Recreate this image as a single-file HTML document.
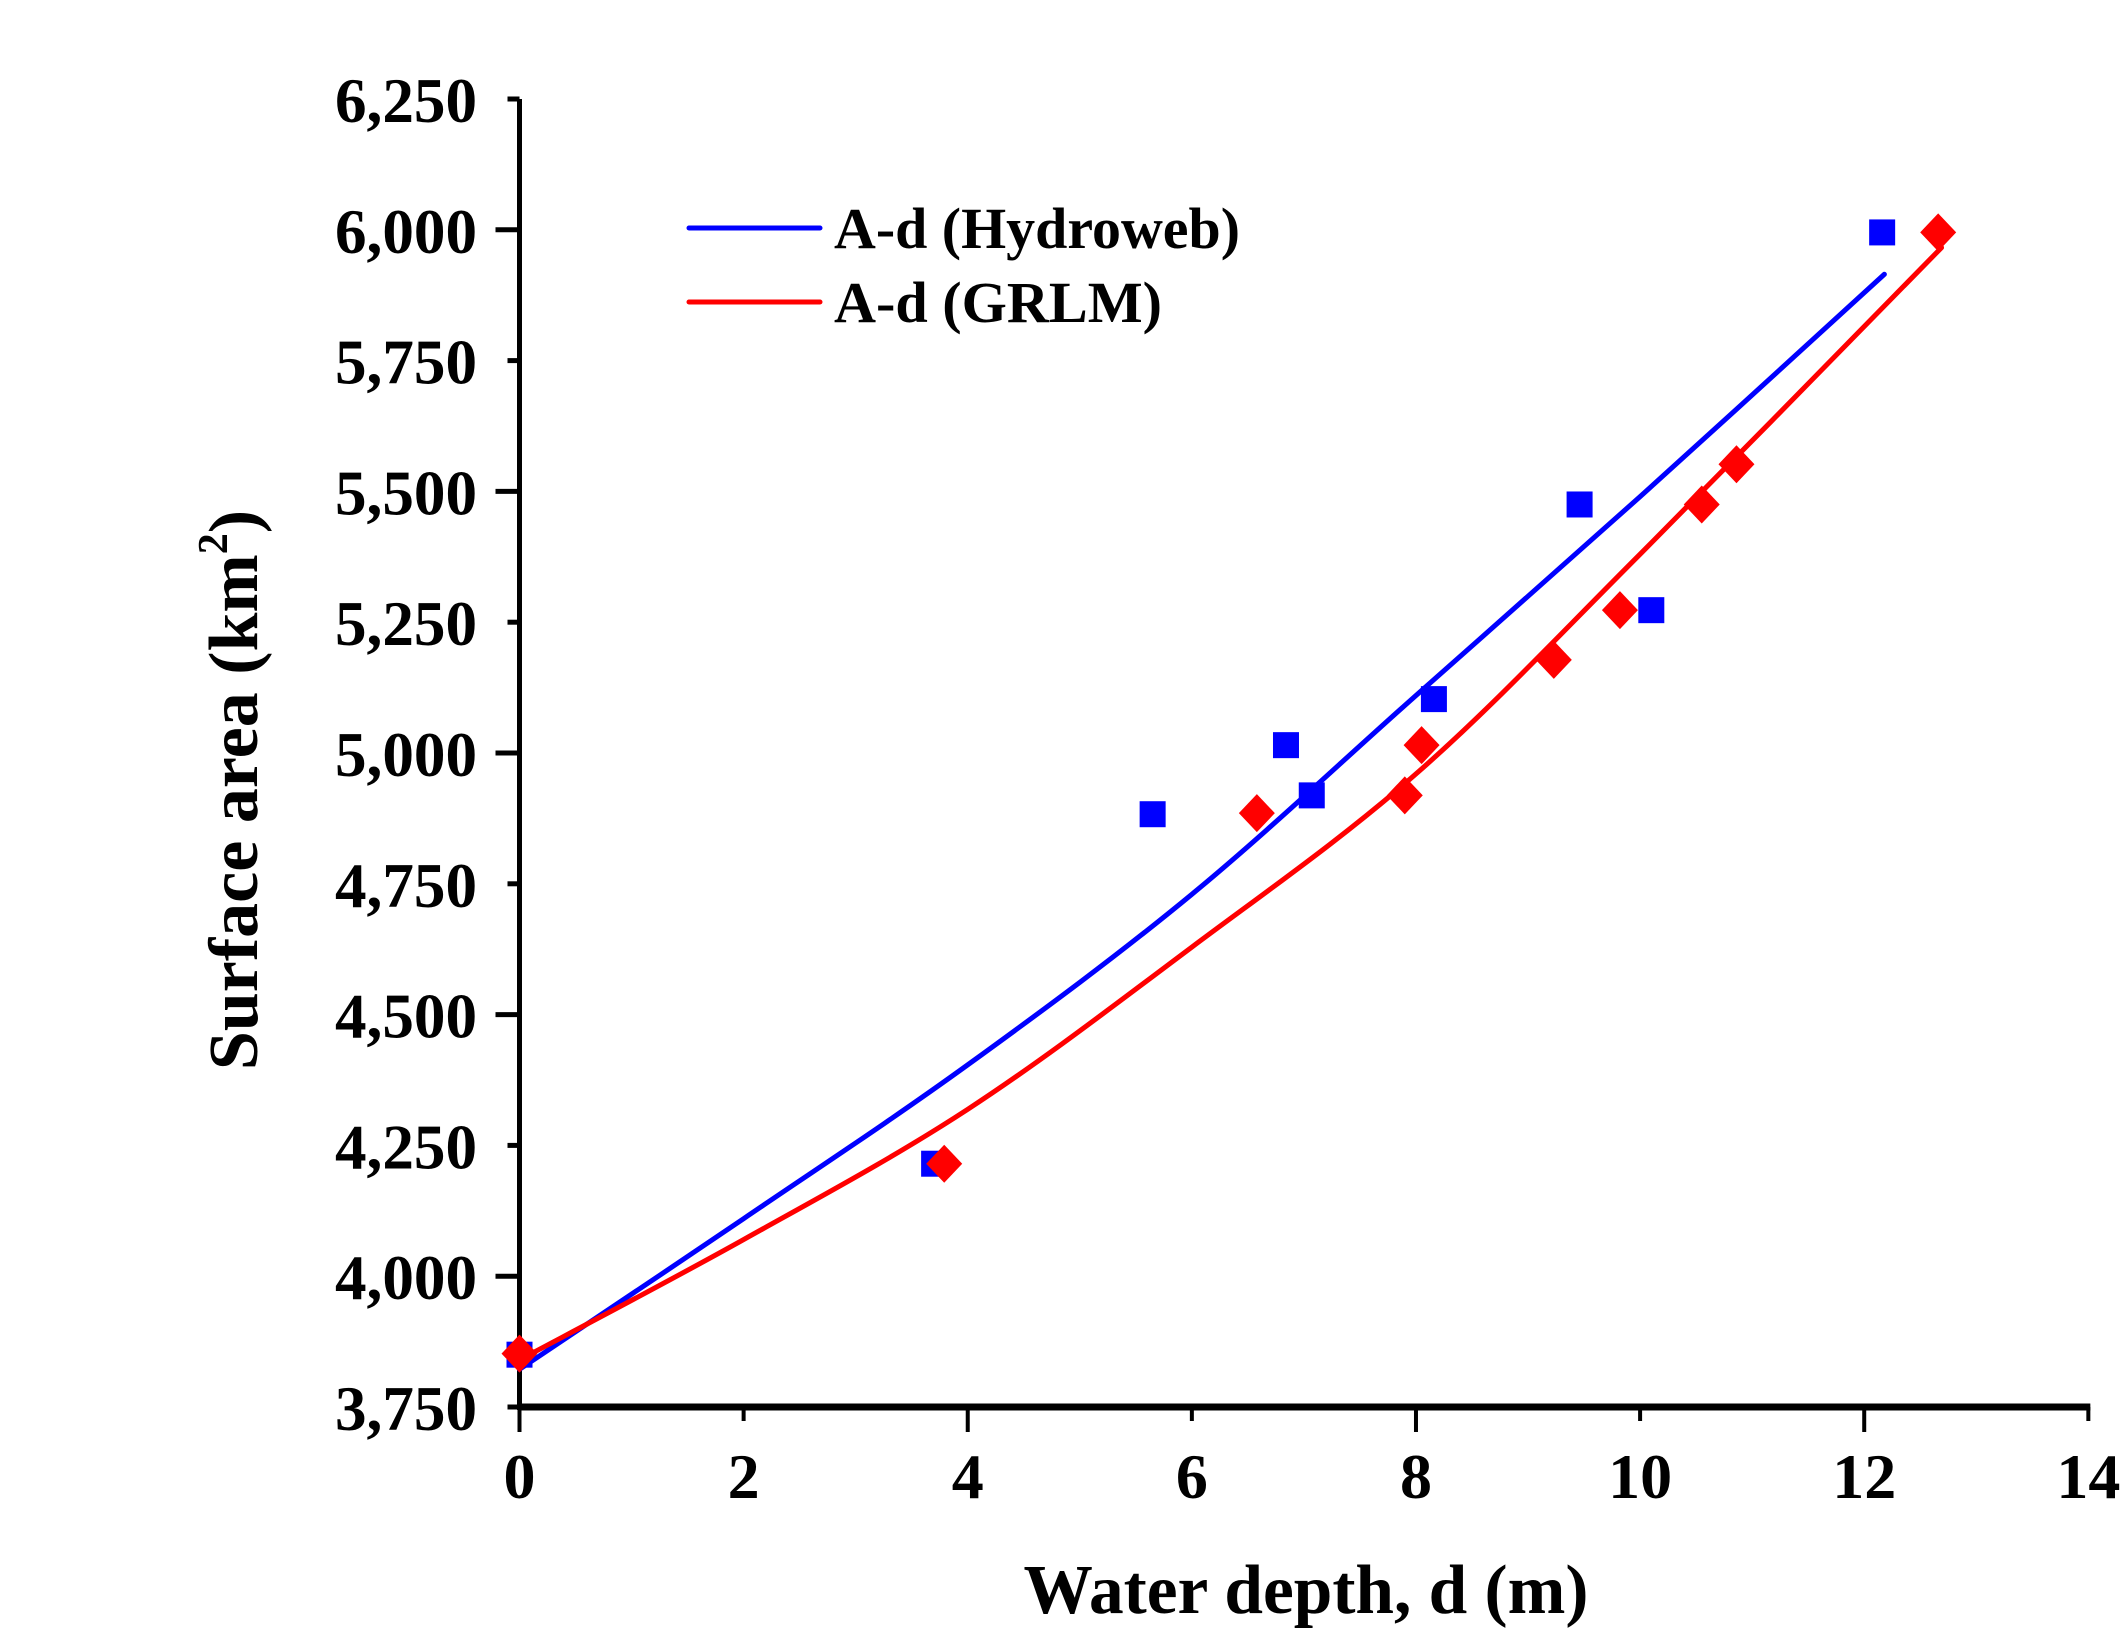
<!DOCTYPE html>
<html><head><meta charset="utf-8"><style>
html,body{margin:0;padding:0;background:#fff;}
svg{display:block;}
text{font-family:"Liberation Serif",serif;font-weight:bold;fill:#000;}
</style></head><body>
<svg id="chart" width="2121" height="1629" viewBox="0 0 2121 1629" xmlns="http://www.w3.org/2000/svg">
<g id="axes"></g>
<g id="curves"></g>
<g id="markers"></g>
<g id="legend">
  <line x1="689" y1="228" x2="820" y2="228" stroke="#0000ff" stroke-width="5" stroke-linecap="round"/>
  <text x="834" y="248" font-size="58" textLength="406" lengthAdjust="spacingAndGlyphs">A-d (Hydroweb)</text>
  <line x1="689" y1="302" x2="820" y2="302" stroke="#ff0000" stroke-width="5" stroke-linecap="round"/>
  <text x="834" y="322" font-size="58" textLength="328" lengthAdjust="spacingAndGlyphs">A-d (GRLM)</text>
</g>
<text x="1306" y="1613" font-size="70" text-anchor="middle" textLength="565" lengthAdjust="spacingAndGlyphs">Water depth, d (m)</text>
<text transform="translate(257,790) rotate(-90)" font-size="70" text-anchor="middle">Surface area (km<tspan dy="-30" font-size="42">2</tspan><tspan dy="30">)</tspan></text>
</svg>
<script>
const xTicks = [0,2,4,6,8,10,12,14];
const yTicks = [3750,4000,4250,4500,4750,5000,5250,5500,5750,6000,6250];
const yTickLabels = ["3,750","4,000","4,250","4,500","4,750","5,000","5,250","5,500","5,750","6,000","6,250"];
const hydroDepth = [0,3.70,5.65,6.84,7.07,8.16,9.46,10.10,12.16];
const hydroArea = [3850,4215,4883,5015,4919,5103,5475,5273,5995];
const grlmDepth = [0,3.79,6.58,7.90,8.05,9.23,9.82,10.55,10.86,12.66];
const grlmArea = [3852,4215,4885,4919,5015,5178,5273,5475,5552,5995];
const hydroFitDepth = [0,2,4,6,8,10,12.18];
const hydroFitArea = [3822,4110,4404,4730,5110,5490,5915];
const grlmFitDepth = [0,2,4,6,8,10,12.69];
const grlmFitArea = [3840,4070,4319,4629,4960,5380,5966];

const NS="http://www.w3.org/2000/svg";
const X0=519.5, PXM=112.06, Y0=1407, PXA=130.8/250;
function sx(d){return X0+d*PXM;}
function sy(a){return Y0-(a-3750)*PXA;}
function mk(tag,attrs,parent){const e=document.createElementNS(NS,tag);for(const k in attrs)e.setAttribute(k,attrs[k]);parent.appendChild(e);return e;}

const axes=document.getElementById('axes');
let yl=mk('line',{x1:X0,y1:sy(6250),x2:X0,y2:Y0+3,stroke:'#000','stroke-width':5},axes);


let xl=mk('line',{x1:X0-2,y1:Y0,x2:sx(14)+2,y2:Y0,stroke:'#000','stroke-width':7},axes);


yTicks.forEach((v,i)=>{
  const major=(v%500===0);
  const t=mk('line',{x1:major?X0-24:X0-12,y1:sy(v),x2:X0,y2:sy(v),stroke:'#000','stroke-width':5},axes);
  
  
  const tx=mk('text',{x:477,y:sy(v)+23,'font-size':64,'text-anchor':'end',textLength:142,lengthAdjust:'spacingAndGlyphs'},axes);
  tx.textContent=yTickLabels[i];
  
  
});
xTicks.forEach(v=>{
  const major=(v%4===0);
  const t=mk('line',{x1:sx(v),y1:Y0,x2:sx(v),y2:major?Y0+25:Y0+14,stroke:'#000','stroke-width':4},axes);
  
  
  const tx=mk('text',{x:sx(v),y:1498,'font-size':64,'text-anchor':'middle'},axes);
  tx.textContent=String(v);
  
  
});

function spline(xs,ys){
  const p=xs.map((d,i)=>[sx(d),sy(ys[i])]);
  let s='M'+p[0][0]+','+p[0][1];
  for(let i=0;i<p.length-1;i++){
    const p0=p[Math.max(0,i-1)],p1=p[i],p2=p[i+1],p3=p[Math.min(p.length-1,i+2)];
    const c1=[p1[0]+(p2[0]-p0[0])/6,p1[1]+(p2[1]-p0[1])/6];
    const c2=[p2[0]-(p3[0]-p1[0])/6,p2[1]-(p3[1]-p1[1])/6];
    s+=' C'+c1.join(',')+' '+c2.join(',')+' '+p2.join(',');
  }
  return s;
}
const curves=document.getElementById('curves');
const cb=mk('path',{d:spline(hydroFitDepth,hydroFitArea),fill:'none',stroke:'#0000ff','stroke-width':5,'stroke-linecap':'round'},curves);


const cr=mk('path',{d:spline(grlmFitDepth,grlmFitArea),fill:'none',stroke:'#ff0000','stroke-width':5,'stroke-linecap':'round'},curves);



const markers=document.getElementById('markers');
hydroDepth.forEach((d,i)=>{
  const x=sx(d),y=sy(hydroArea[i]);
  const r=mk('rect',{x:x-13,y:y-13,width:26,height:26,fill:'#0000ff'},markers);
  
  
});
grlmDepth.forEach((d,i)=>{
  const x=sx(d),y=sy(grlmArea[i]);
  const p=mk('polygon',{points:`${x},${y-19} ${x+18},${y} ${x},${y+19} ${x-18},${y}`,fill:'#ff0000'},markers);
  
  
});
</script>
</body></html>
